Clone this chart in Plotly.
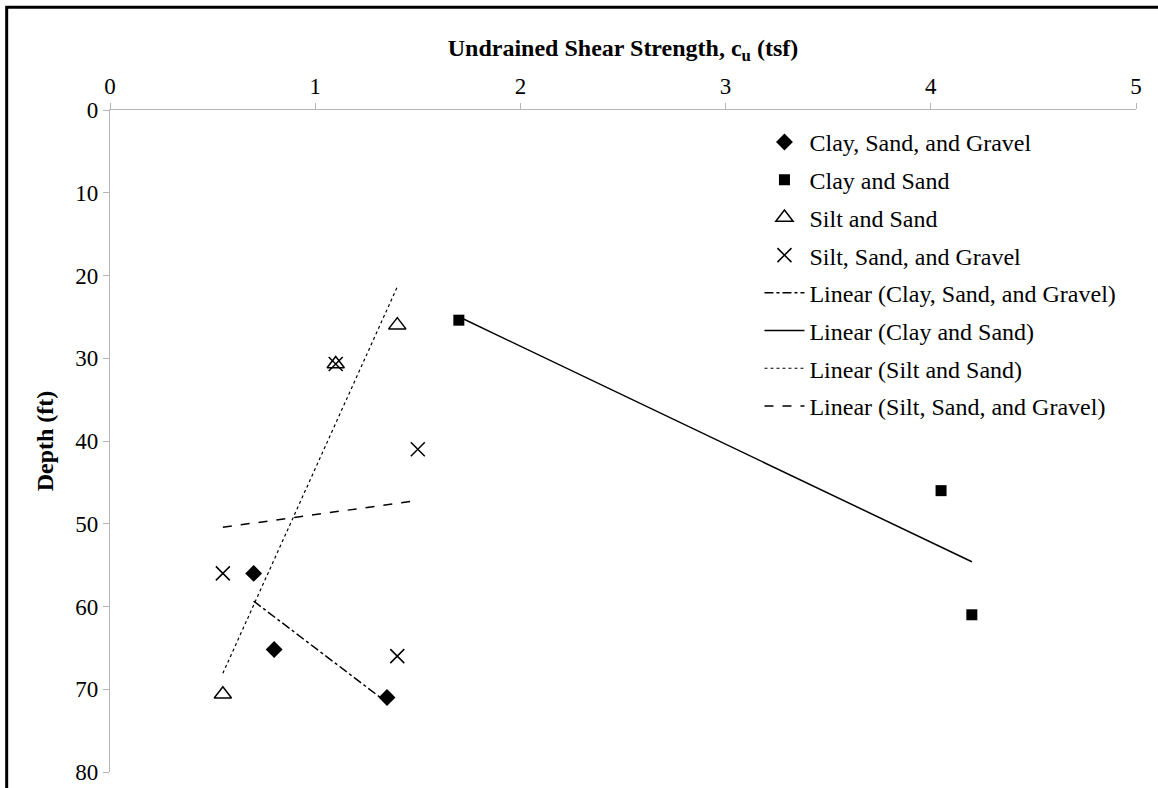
import numpy as np
import plotly.graph_objects as go

# Data
csg_x = [0.70, 0.80, 1.35]
csg_y = [56.0, 65.2, 71.0]
cs_x = [1.70, 4.05, 4.20]
cs_y = [25.4, 46.0, 61.0]
ss_x = [0.55, 1.10, 1.40]
ss_y = [70.6, 30.7, 26.0]
ssg_x = [0.55, 1.10, 1.50, 1.40]
ssg_y = [56.0, 30.7, 41.0, 66.0]

names = ["Clay, Sand, and Gravel", "Clay and Sand", "Silt and Sand", "Silt, Sand, and Gravel"]
x_ticks = [0, 1, 2, 3, 4, 5]
y_ticks = [0, 10, 20, 30, 40, 50, 60, 70, 80]

FONT = "Liberation Serif"
fig = go.Figure()

series = [
    (csg_x, csg_y, dict(symbol="diamond", size=13, color="black")),
    (cs_x, cs_y, dict(symbol="square", size=11, color="black")),
    (ss_x, ss_y, dict(symbol="triangle-up-open", size=15, color="black", line=dict(width=1.5, color="black"))),
    (ssg_x, ssg_y, dict(symbol="x-thin-open", size=14, color="black", line=dict(width=1.5, color="black"))),
]
for i, (xs, ys, mk) in enumerate(series):
    fig.add_trace(go.Scatter(x=xs, y=ys, mode="markers", name=names[i], marker=mk,
                             legendgroup=f"g{i}"))

dashes = ["dashdot", "solid", "dot", "dash"]
widths = [1.5, 1.5, 1.2, 1.5]
for i, (xs, ys, _) in enumerate(series):
    a, b = np.polyfit(xs, ys, 1)
    xe = np.array([min(xs), max(xs)])
    fig.add_trace(go.Scatter(x=xe, y=a * xe + b, mode="lines", name=f"Linear ({names[i]})",
                             line=dict(color="black", width=widths[i], dash=dashes[i]),
                             legendgroup=f"l{i}"))

axis_common = dict(showgrid=False, zeroline=False, showline=True, linecolor="#b5b5b5", linewidth=1.2,
                   ticks="outside", ticklen=6, tickcolor="#b5b5b5", automargin=False,
                   tickfont=dict(family=FONT, size=23, color="black"))

fig.update_layout(
    width=1158, height=788,
    margin=dict(l=110, r=22, t=110, b=16),
    paper_bgcolor="white", plot_bgcolor="white",
    font=dict(family=FONT, color="black"),
    xaxis=dict(range=[0, 5], side="top", tickvals=x_ticks, **axis_common,
               title=dict(text="<b>Undrained Shear Strength, c<sub>u</sub> (tsf)</b>",
                          font=dict(family=FONT, size=24, color="black"), standoff=10)),
    yaxis=dict(range=[80, 0], tickvals=y_ticks, **axis_common,
               title=dict(text="<b>Depth (ft)</b>", font=dict(family=FONT, size=24, color="black"), standoff=14)),
    legend=dict(x=0.633, y=0.985, xanchor="left", yanchor="top",
                font=dict(family=FONT, size=24, color="black"),
                traceorder="grouped", tracegroupgap=3.5, bgcolor="rgba(0,0,0,0)", itemwidth=40),
    showlegend=True,
)

# outer frame of the picture (left and top edges visible)
fig.add_shape(type="rect", xref="paper", yref="paper",
              x0=-0.1007, x1=1.1, y0=-0.1, y1=1.1551,
              line=dict(color="black", width=3), fillcolor="rgba(0,0,0,0)", layer="above")

fig.write_html("out.html", config={"displayModeBar": False},
               post_script="document.body.style.margin='0';")
